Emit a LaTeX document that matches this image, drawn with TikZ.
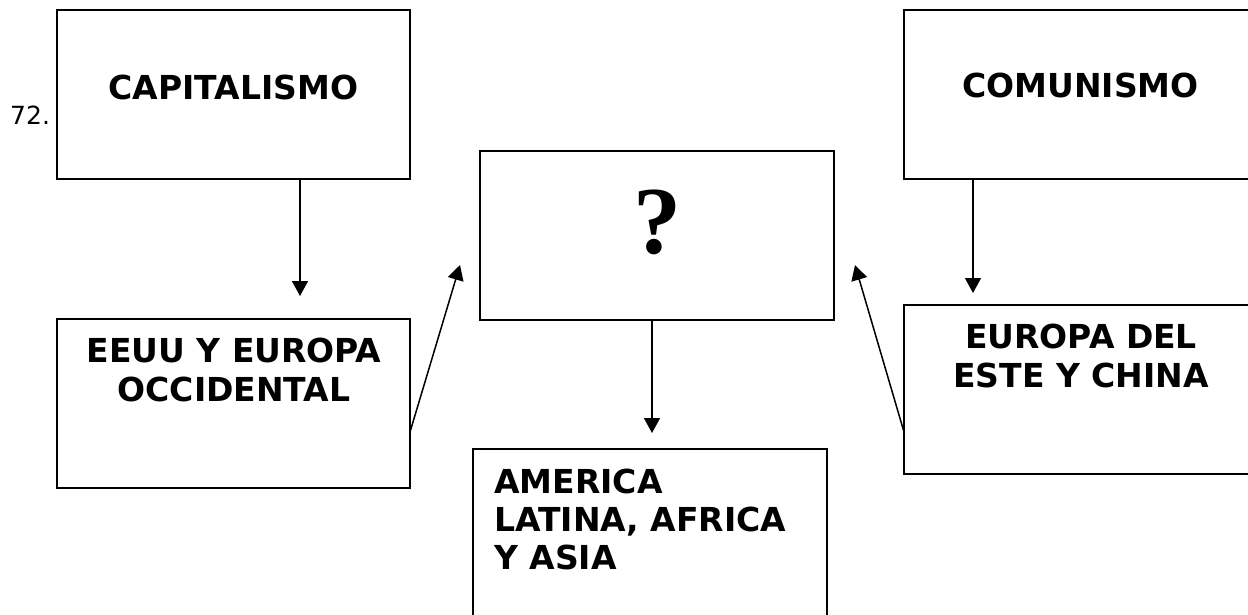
\documentclass[tikz,border=0pt]{standalone}
\usepackage{fontspec}
\setmainfont{DejaVu Sans}
\newfontfamily\qfont{Liberation Serif}
\usetikzlibrary{arrows.meta}
\begin{document}
\begin{tikzpicture}[x=1pt,y=-1pt,
  box/.style={draw=black,line width=2pt,rectangle,inner sep=0pt,outer sep=0pt,anchor=north west},
  lbl/.style={inner sep=0pt,font=\fontsize{33}{38.5}\selectfont\bfseries},
  arr/.style={line width=1.5pt,-{Triangle[width=16pt,length=15pt]}}]
\useasboundingbox (0,0) rectangle (1248,615);
\clip (0,0) rectangle (1248,615);
% boxes
\node[box,minimum width=353pt,minimum height=169pt] (cap) at (57,10) {};
\node[box,minimum width=353pt,minimum height=169pt] (com) at (904,10) {};
\node[box,minimum width=354pt,minimum height=169pt] (q) at (480,151) {};
\node[box,minimum width=353pt,minimum height=169pt] (eeuu) at (57,319) {};
\node[box,minimum width=353pt,minimum height=169pt] (eur) at (904,305) {};
\node[box,minimum width=354pt,minimum height=175pt] (am) at (473,449) {};
% texts
\node[inner sep=0pt,anchor=base west,font=\fontsize{25}{30}\selectfont] (num) at (10,125) {72.};
\node[lbl,anchor=base] (capt) at (233.5,100) {CAPITALISMO};
\node[lbl,anchor=base] (comt) at (1080.5,98) {COMUNISMO};
\node[inner sep=0pt,anchor=base,font=\fontsize{96}{106}\qfont\bfseries] (qt) at (657,253) {?};
\node[lbl,anchor=base] (eeuu1) at (234,362) {EEUU Y EUROPA};
\node[lbl,anchor=base] (eeuu2) at (234,401) {OCCIDENTAL};
\node[lbl,anchor=base] (eur1) at (1081,348) {EUROPA DEL};
\node[lbl,anchor=base] (eur2) at (1081,387) {ESTE Y CHINA};
\node[lbl,anchor=base west] (am1) at (494,493) {AMERICA};
\node[lbl,anchor=base west] (am2) at (494,531) {LATINA, AFRICA};
\node[lbl,anchor=base west] (am3) at (494,569) {Y ASIA};
% arrow tips
\coordinate (t1) at (300,296);
\coordinate (t2) at (460,265);
\coordinate (t3) at (652,433);
\coordinate (t4) at (973,293);
\coordinate (t5) at (855,265);
\draw[arr] (t1 |- cap.south) -- (t1);
\draw[arr] ([yshift=56pt]eeuu.south east) -- (t2);
\draw[arr] (t3 |- q.south) -- (t3);
\draw[arr] (t4 |- com.south) -- (t4);
\draw[arr] ([yshift=42pt]eur.south west) -- (t5);
\end{tikzpicture}
\end{document}
